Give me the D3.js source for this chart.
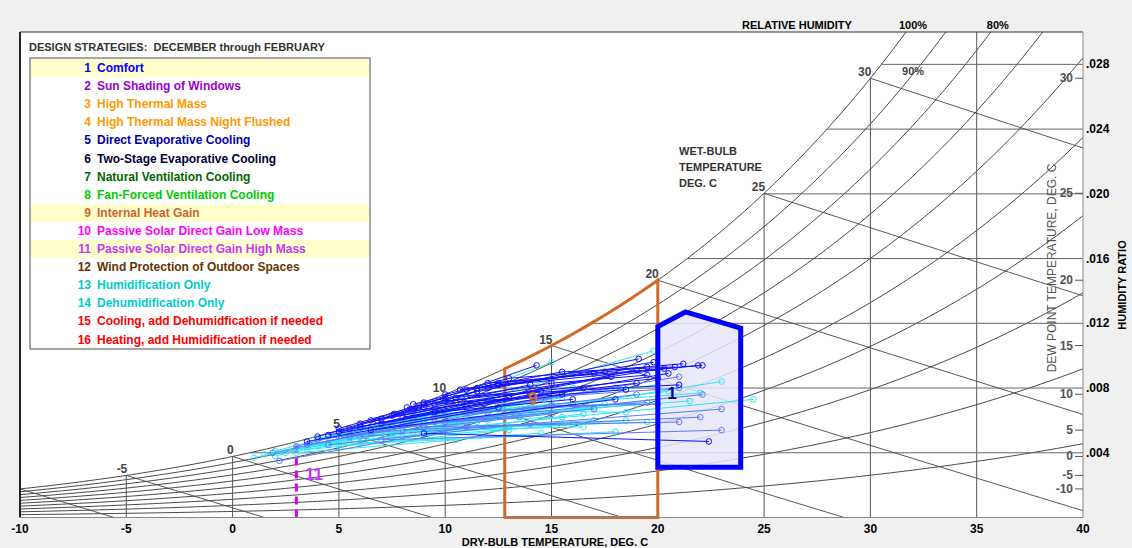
<!DOCTYPE html>
<html lang="en">
<head>
<meta charset="UTF-8">
<title>Psychrometric chart - design strategies</title>
<script src="https://d3js.org/d3.v7.min.js"></script>
<style>
    body { margin: 0; background: #f0f0f0; }
    svg { display: block; font-family: "Liberation Sans", Arial, sans-serif; }
    .bold { font-weight: bold; }
</style>
</head>
<body>
<svg id="chart" width="1132" height="548"></svg>
<script>
// ---- data ----
const legendTitle = "DESIGN STRATEGIES:  DECEMBER through FEBRUARY";
const strategyNames = [
    "Comfort", "Sun Shading of Windows", "High Thermal Mass", "High Thermal Mass Night Flushed",
    "Direct Evaporative Cooling", "Two-Stage Evaporative Cooling", "Natural Ventilation Cooling",
    "Fan-Forced Ventilation Cooling", "Internal Heat Gain", "Passive Solar Direct Gain Low Mass",
    "Passive Solar Direct Gain High Mass", "Wind Protection of Outdoor Spaces", "Humidification Only",
    "Dehumidification Only", "Cooling, add Dehumidfication if needed", "Heating, add Humidification if needed"
];
const strategyColors = ["#0000ff", "#9a00cc", "#ff9900", "#ff9900", "#0000a8", "#000033", "#006600",
    "#00cc00", "#cc6633", "#ff00ff", "#cc33ff", "#663300", "#00cccc", "#00cccc", "#ff0000", "#ff0000"];
const selectedStrategies = [1, 9, 11];

const dryBulbTicks = [-10, -5, 0, 5, 10, 15, 20, 25, 30, 35, 40];
const humidityTicks = [4, 8, 12, 16, 20, 24, 28];          // g/kg
const dewPointTicks = [-10, -5, 0, 5, 10, 15, 20, 25, 30];
const wetBulbTemps = [-10, -5, 0, 5, 10, 15, 20, 25, 30];
const rhLevels = [0.1, 0.2, 0.3, 0.4, 0.5, 0.6, 0.7, 0.8, 0.9];

// zones: comfort polygon [T, W g/kg], internal heat gain T range, passive solar line T
const comfortZone = [[20, 3.1], [20, 11.8], [21.3, 12.7], [23.9, 11.7], [23.9, 3.1]];
const heatGainRange = [12.8, 20];
const passiveSolarT = 3.0;

// daily climate traces: colour key, then [dry bulb, humidity ratio g/kg] points
const traces = [
    ["c", [1.0, 3.7], [9.0, 5.8]], ["c", [3.0, 4.3], [14.0, 6.6]], ["c", [5.5, 4.8], [15.0, 9.6]],
    ["c", [4.5, 4.6], [19.8, 10.3]], ["c", [6.5, 5.0], [23.0, 8.4]], ["c", [8.5, 5.3], [24.5, 7.3]],
    ["c", [5.0, 4.5], [18.0, 5.3]], ["c", [7.0, 5.2], [17.0, 6.0]], ["c", [3.5, 4.2], [13.0, 5.4]],
    ["c", [6.0, 5.3], [19.0, 7.0]], ["c", [9.0, 6.0], [20.5, 7.8]], ["c", [4.0, 4.4], [16.5, 6.4]],
    ["c", [7.5, 4.9], [18.5, 6.0]], ["c", [2.5, 4.0], [12.0, 6.0]], ["c", [8.0, 5.8], [15.5, 7.4]],
    ["c", [6.0, 4.6], [14.5, 5.2]], ["c", [10.0, 5.5], [16.0, 5.8]], ["c", [5.0, 5.0], [13.5, 7.0]],
    ["c", [11.0, 6.2], [21.5, 7.2]], ["c", [3.0, 4.0], [10.5, 4.8]], ["c", [2.0, 4.1], [6.0, 5.5]],
    ["c", [7.0, 5.5], [12.5, 6.3]], ["c", [9.5, 6.4], [17.5, 7.0]], ["c", [4.0, 4.9], [9.0, 6.1]],
    ["c", [12.0, 6.6], [18.5, 6.5]], ["c", [1.5, 3.9], [7.5, 5.2]],
    ["c", [3.5, 4.5], [11.5, 5.9], [17.0, 6.8]], ["c", [5.5, 4.9], [12.0, 6.1], [20.0, 7.3]],
    ["c", [6.5, 5.6], [14.0, 6.9]], ["c", [8.0, 5.0], [13.0, 5.6], [19.5, 5.9]],
    ["c", [4.5, 5.0], [10.0, 6.6]], ["c", [9.0, 6.3], [15.0, 7.0], [22.0, 7.7]],
    ["c", [10.5, 6.0], [15.5, 6.2]], ["c", [2.0, 3.8], [5.5, 4.9]],
    ["c", [6.0, 5.4], [11.0, 6.8], [16.0, 8.0]], ["c", [12.5, 7.0], [20.0, 8.2]],
    ["c", [7.5, 5.3], [16.5, 5.6]],
    ["m", [1.9, 4.0], [10.0, 6.3]], ["m", [4.0, 4.8], [16.0, 7.0]], ["m", [5.0, 5.3], [21.0, 8.7]],
    ["m", [7.5, 5.6], [22.1, 7.6]], ["m", [6.0, 5.0], [23.0, 6.7]], ["m", [8.0, 5.4], [22.0, 6.2]],
    ["m", [9.0, 5.6], [21.0, 5.9]], ["m", [7.0, 4.8], [23.0, 5.4]], ["m", [2.2, 3.5], [11.0, 5.6]],
    ["m", [10.0, 5.9], [17.0, 6.7]], ["m", [4.5, 4.5], [14.0, 5.8]], ["m", [11.0, 6.5], [19.5, 7.1]],
    ["m", [3.0, 4.4], [8.5, 6.2]], ["m", [6.5, 5.2], [15.0, 6.4]], ["m", [8.5, 6.0], [18.0, 8.0]],
    ["m", [5.5, 5.0], [12.0, 6.5], [19.0, 7.6]], ["m", [8.0, 5.7], [13.5, 6.2]],
    ["m", [3.5, 4.5], [9.5, 5.9]], ["m", [9.5, 6.2], [15.0, 6.9], [20.0, 7.0]],
    ["m", [12.0, 7.2], [21.0, 8.0]],
    ["b", [7.6, 6.4], [12.0, 8.0], [19.8, 9.6]], ["b", [6.8, 6.0], [14.3, 9.4]],
    ["b", [10.0, 7.6], [13.0, 8.6], [21.2, 9.5]], ["b", [10.7, 7.9], [21.9, 9.4]],
    ["b", [12.0, 8.3], [22.1, 9.4]], ["b", [9.0, 7.1], [19.1, 9.8]], ["b", [8.2, 6.8], [20.3, 9.2]],
    ["b", [11.0, 7.5], [21.0, 8.2]], ["b", [6.0, 5.8], [19.0, 9.1]], ["b", [9.5, 7.0], [18.5, 7.9]],
    ["b", [5.5, 5.5], [16.5, 8.0]], ["b", [8.5, 6.6], [19.0, 8.3]], ["b", [4.5, 5.1], [15.5, 7.6]],
    ["b", [7.0, 6.1], [17.8, 8.7]], ["b", [9.0, 5.2], [22.4, 4.7]], ["b", [3.5, 4.7], [12.5, 6.8]],
    ["b", [6.5, 5.4], [18.0, 7.3]], ["b", [8.0, 6.2], [20.5, 8.9]], ["b", [11.5, 8.0], [17.5, 9.0]],
    ["b", [5.0, 5.3], [11.0, 7.0]], ["b", [10.0, 7.2], [20.0, 8.6]], ["b", [7.0, 5.8], [14.0, 7.6]],
    ["b", [12.5, 8.2], [19.5, 9.3]], ["b", [9.5, 6.5], [16.0, 7.3]], ["b", [6.0, 5.6], [13.0, 7.4]],
    ["b", [4.0, 5.0], [9.0, 6.8], [14.0, 8.2]], ["b", [8.5, 7.0], [12.5, 8.3], [17.0, 8.9]],
    ["b", [10.5, 7.4], [15.0, 8.3], [19.5, 8.8]], ["b", [5.0, 5.5], [10.0, 7.4]],
    ["b", [7.5, 6.3], [11.5, 7.8]], ["b", [11.0, 7.9], [15.5, 9.0], [20.8, 9.3]],
    ["b", [6.5, 6.0], [10.5, 7.1], [14.5, 7.8]]
];
const traceColors = { b: "#1010ff", m: "#5a78ff", c: "#2ee6f5" };

// ---- psychrometrics (sea level) ----
const P = 101.325;
function ps(t) { return 0.61094 * Math.exp(17.625 * t / (t + 243.04)); }
function wOf(t, rh) { const p = rh * ps(t); return 622 * p / (P - p); }
function tOf(w, rh) {
    const a = Math.log(w * P / (622 + w) / rh / 0.61094);
    return 243.04 * a / (17.625 - a);
}
function wetBulbW(t, twb) {
    const ws = wOf(twb, 1) / 1000;
    return 1000 * ((2501 - 2.326 * twb) * ws - 1.006 * (t - twb)) / (2501 + 1.86 * t - 4.186 * twb);
}

// ---- layout ----
const svg = d3.select("#chart");
const pL = 20, pR = 1083, pT = 32, pB = 517.5;
const x = d3.scaleLinear().domain([-10, 40]).range([pL, pR]);
const y = d3.scaleLinear().domain([0, 30]).range([pB, pT]);
const line = d3.line().x(d => x(d[0])).y(d => y(d[1]));

svg.append("rect").attr("x", pL).attr("y", pT).attr("width", pR - pL).attr("height", pB - pT)
    .attr("fill", "white");
svg.append("clipPath").attr("id", "plot").append("rect")
    .attr("x", pL).attr("y", pT).attr("width", pR - pL).attr("height", pB - pT);

const grid = svg.append("g").attr("clip-path", "url(#plot)").attr("fill", "none");

// relative humidity curves
rhLevels.concat([1]).forEach(rh => {
    const pts = d3.range(-10, 40.01, 0.25).map(t => [t, wOf(t, rh)]);
    grid.append("path").attr("d", line(pts)).attr("stroke", "#333").attr("stroke-width", 0.9);
});

// dry-bulb verticals
dryBulbTicks.slice(1, -1).forEach(t => {
    grid.append("path").attr("d", line([[t, 0], [t, Math.min(30, wOf(t, 1))]]))
        .attr("stroke", "#555").attr("stroke-width", 1);
});

// humidity ratio horizontals
humidityTicks.forEach(w => {
    grid.append("path").attr("d", line([[tOf(w, 1), w], [40, w]]))
        .attr("stroke", "#666").attr("stroke-width", 1);
});

// wet-bulb lines
wetBulbTemps.forEach(twb => {
    const pts = d3.range(twb, 40.01, 0.5).map(t => [t, wetBulbW(t, twb)]).filter(d => d[1] >= -0.5);
    grid.append("path").attr("d", line(pts)).attr("stroke", "#444").attr("stroke-width", 0.9);
});

// wet-bulb labels on the saturation curve
const wbLabels = svg.append("g").attr("clip-path", "url(#plot)");
wetBulbTemps.forEach(twb => {
    wbLabels.append("text").attr("x", x(twb) + 1).attr("y", y(wOf(twb, 1)) - 2)
        .attr("text-anchor", "end").attr("class", "bold").attr("font-size", 12).attr("fill", "#444")
        .text(twb);
});

// internal heat gain zone (follows saturation on top)
const hgTop = d3.range(heatGainRange[0], heatGainRange[1] + 0.001, 0.2).map(t => [t, wOf(t, 1)]);
const hgPts = [[heatGainRange[0], 0]].concat(hgTop, [[heatGainRange[1], 0]]);
svg.append("path").attr("d", line(hgPts) + "Z").attr("fill", "none")
    .attr("stroke", "#d06a28").attr("stroke-width", 3);

// passive solar high mass line
svg.append("path").attr("d", line([[passiveSolarT, 0], [passiveSolarT, wOf(passiveSolarT, 1)]]))
    .attr("stroke", "#dc00f0").attr("stroke-width", 3).attr("stroke-dasharray", "8,5");

// comfort zone
svg.append("path").attr("d", line(comfortZone) + "Z").attr("fill", "#e6e6fa").attr("fill-opacity", 0.85)
    .attr("stroke", "none");

// climate traces
const tr = svg.append("g").attr("clip-path", "url(#plot)");
traces.forEach(d => {
    const col = traceColors[d[0]], pts = d.slice(1);
    tr.append("path").attr("d", line(pts)).attr("fill", "none").attr("stroke", col).attr("stroke-width", 1);
    pts.forEach(p => {
        tr.append("circle").attr("cx", x(p[0])).attr("cy", y(p[1])).attr("r", 2.8)
            .attr("fill", "none").attr("stroke", col).attr("stroke-width", 1);
    });
});

svg.append("path").attr("d", line(comfortZone) + "Z").attr("fill", "none")
    .attr("stroke", "#0000ff").attr("stroke-width", 5);

// zone numbers
svg.append("text").attr("x", x(13.9)).attr("y", y(7.0)).attr("class", "bold").attr("font-size", 17)
    .attr("fill", "#d06a28").text("9");
svg.append("text").attr("x", x(20.45)).attr("y", y(7.3)).attr("class", "bold").attr("font-size", 17)
    .attr("fill", "#0000a0").text("1");
svg.append("text").attr("x", x(3.4)).attr("y", y(2.3)).attr("class", "bold").attr("font-size", 17)
    .attr("fill", "#cc33ff").text("11");

// frame
svg.append("line").attr("x1", pL).attr("x2", pL).attr("y1", pT).attr("y2", pB).attr("stroke", "#222").attr("stroke-width", 2);
svg.append("line").attr("x1", pL).attr("x2", pR).attr("y1", pT).attr("y2", pT).attr("stroke", "#333");
svg.append("line").attr("x1", pR).attr("x2", pR).attr("y1", pT).attr("y2", pB).attr("stroke", "#888");
svg.append("line").attr("x1", pL).attr("x2", pR).attr("y1", pB).attr("y2", pB).attr("stroke", "#888");

// bottom axis
dryBulbTicks.forEach(t => {
    svg.append("text").attr("x", x(t)).attr("y", 533).attr("text-anchor", "middle")
        .attr("class", "bold").attr("font-size", 12).text(t);
});
svg.append("text").attr("x", 555).attr("y", 546).attr("text-anchor", "middle").attr("class", "bold")
    .attr("font-size", 11).text("DRY-BULB TEMPERATURE, DEG. C");

// right axes
humidityTicks.forEach(w => {
    svg.append("text").attr("x", pR + 3).attr("y", y(w) + 4).attr("class", "bold").attr("font-size", 12)
        .text("." + d3.format("03d")(w));
});
dewPointTicks.forEach(t => {
    const yy = y(wOf(t, 1));
    svg.append("line").attr("x1", pR - 8).attr("x2", pR).attr("y1", yy).attr("y2", yy).attr("stroke", "#555");
    svg.append("text").attr("x", pR - 10).attr("y", yy + 4).attr("text-anchor", "end").attr("class", "bold")
        .attr("font-size", 12).attr("fill", "#555").text(t);
});
svg.append("text").attr("transform", "translate(1126,285) rotate(-90)").attr("text-anchor", "middle")
    .attr("class", "bold").attr("font-size", 11).text("HUMIDITY RATIO");
svg.append("text").attr("transform", "translate(1056,268) rotate(-90)").attr("text-anchor", "middle")
    .attr("font-size", 12).attr("fill", "#555").text("DEW POINT TEMPERATURE, DEG. C");

// top labels
svg.append("text").attr("x", 797).attr("y", 29).attr("text-anchor", "middle").attr("class", "bold")
    .attr("font-size", 11).text("RELATIVE HUMIDITY");
[1, 0.8].forEach(rh => {
    svg.append("text").attr("x", x(tOf(30, rh)) + 7).attr("y", 29).attr("text-anchor", "middle")
        .attr("class", "bold").attr("font-size", 11).text(d3.format(".0%")(rh));
});
svg.append("text").attr("x", x(tOf(27.4, 0.9))).attr("y", 75).attr("text-anchor", "middle")
    .attr("class", "bold").attr("font-size", 11).attr("fill", "#444").text("90%");

["WET-BULB", "TEMPERATURE", "DEG. C"].forEach((s, i) => {
    svg.append("text").attr("x", 679).attr("y", 155 + i * 16).attr("class", "bold").attr("font-size", 11)
        .attr("fill", "#333").text(s);
});

// legend
svg.append("text").attr("x", 29).attr("y", 51).attr("class", "bold").attr("font-size", 11)
    .attr("fill", "#333").style("white-space", "pre").text(legendTitle);
const lg = svg.append("g");
lg.append("rect").attr("x", 30).attr("y", 58).attr("width", 340).attr("height", 291)
    .attr("fill", "white").attr("stroke", "#888").attr("stroke-width", 1.5);
const rowH = 18.1;
strategyNames.forEach((name, i) => {
    const num = i + 1, y0 = 59 + i * rowH;
    if (selectedStrategies.includes(num)) {
        lg.append("rect").attr("x", 31).attr("y", y0).attr("width", 338).attr("height", rowH).attr("fill", "#ffffcc");
    }
    lg.append("text").attr("x", 91).attr("y", y0 + 13).attr("text-anchor", "end").attr("class", "bold")
        .attr("font-size", 12).attr("fill", strategyColors[i]).text(num);
    lg.append("text").attr("x", 97).attr("y", y0 + 13).attr("class", "bold")
        .attr("font-size", 12).attr("fill", strategyColors[i]).text(name);
});
</script>
</body>
</html>
